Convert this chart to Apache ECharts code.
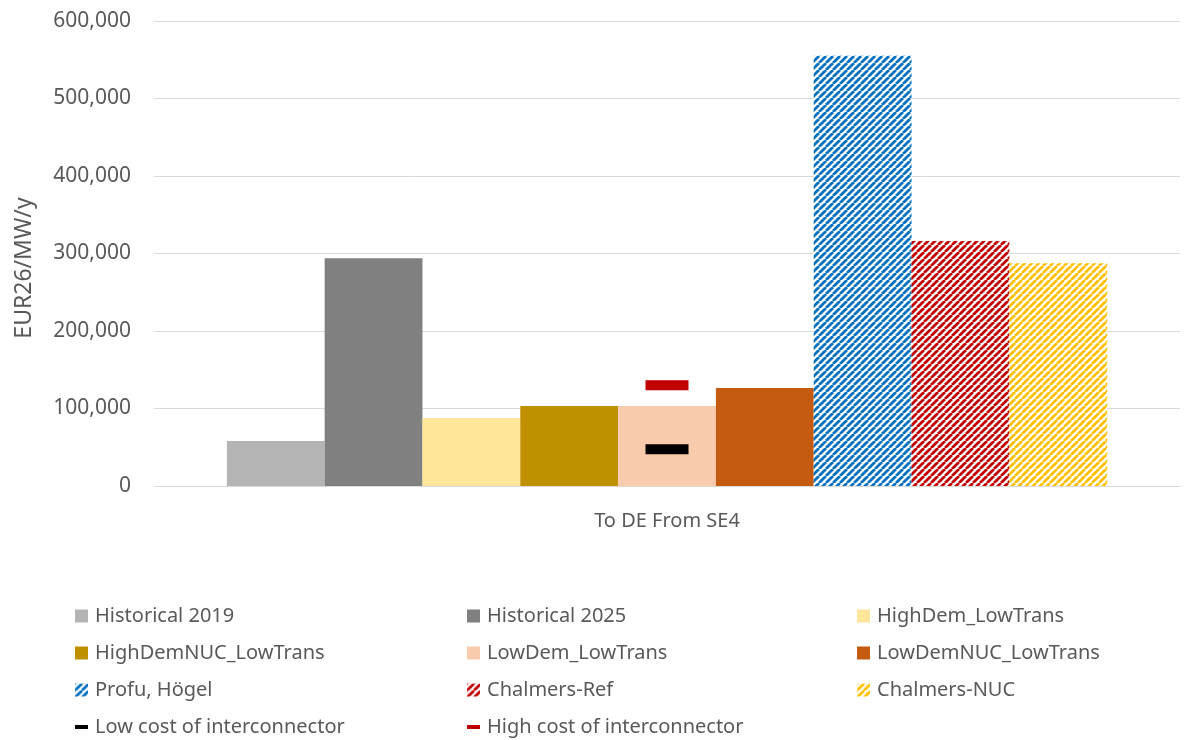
<!DOCTYPE html>
<html>
<head>
<meta charset="utf-8">
<script src="https://cdn.jsdelivr.net/npm/echarts@6/dist/echarts.min.js"></script>
<style>
  html, body { margin: 0; padding: 0; background: #ffffff; }
  #chart { width: 1186px; height: 740px; }
</style>
</head>
<body>
<div id="chart"></div>
<script>
// Annual congestion income per MW, SE4 -> DE
const categories = ['To DE From SE4'];

const scenarioNames = [
  'Historical 2019', 'Historical 2025', 'HighDem_LowTrans',
  'HighDemNUC_LowTrans', 'LowDem_LowTrans', 'LowDemNUC_LowTrans',
  'Profu, Högel', 'Chalmers-Ref', 'Chalmers-NUC'
];
const scenarioValues = [58000, 294000, 87700, 103200, 103200, 126500, 555200, 316100, 287400];

const lowCostName = 'Low cost of interconnector';
const highCostName = 'High cost of interconnector';
const lowCostValues = [47500];
const highCostValues = [130000];

const axisMax = 600000;
const axisStep = 100000;

const textColor = '#595959';
const fontFamily = '"Noto Sans", "Open Sans", sans-serif';

// Diagonal "/" hatch fill for the external studies
function hatch(color) {
  const p = 7;
  const c = document.createElement('canvas');
  c.width = p; c.height = p;
  const ctx = c.getContext('2d');
  ctx.fillStyle = '#ffffff';
  ctx.fillRect(0, 0, p, p);
  ctx.strokeStyle = color;
  ctx.lineWidth = 2.8;
  ctx.beginPath();
  for (let k = -1; k <= 1; k++) {
    ctx.moveTo(k * p, p);
    ctx.lineTo(k * p + p, 0);
  }
  ctx.stroke();
  return { image: c, repeat: 'repeat' };
}

const scenarioColors = [
  '#B4B4B4', '#808080', '#FFE699',
  '#BF9000', '#F8CBAD', '#C55A11',
  hatch('#0070C0'), hatch('#C00000'), hatch('#FFC000')
];

const barSeries = scenarioNames.map((name, i) => ({
  name: name,
  type: 'bar',
  data: [scenarioValues[i]],
  barGap: '0%',
  barCategoryGap: '14.2%',
  itemStyle: { color: scenarioColors[i] }
}));

const markerSeries = [
  {
    name: lowCostName, type: 'scatter', data: [lowCostValues[0]],
    symbol: 'rect', symbolSize: [43, 10], z: 5,
    itemStyle: { color: '#000000', opacity: 1 }
  },
  {
    name: highCostName, type: 'scatter', data: [highCostValues[0]],
    symbol: 'rect', symbolSize: [43, 10], z: 5,
    itemStyle: { color: '#C00000', opacity: 1 }
  }
];

const dashIcon = 'path://M0,0 L0,0 M13,13 L13,13 M0,4.5 L13,4.5 L13,8.5 L0,8.5 Z';

function legendColumn(left, items) {
  return {
    orient: 'vertical',
    left: left,
    top: 606,
    padding: 0,
    itemWidth: 13,
    itemHeight: 13,
    itemGap: 17,
    icon: 'rect',
    textStyle: { color: textColor, fontSize: 20, fontFamily: fontFamily, lineHeight: 20, padding: [0, 0, 0, 2] },
    data: items.map(n => (n === lowCostName || n === highCostName) ? { name: n, icon: dashIcon } : { name: n })
  };
}

const chart = echarts.init(document.getElementById('chart'), null, { renderer: 'canvas' });
chart.setOption({
  animation: false,
  backgroundColor: '#ffffff',
  grid: { left: 154, right: 6, top: 21, bottom: 254, containLabel: false },
  xAxis: {
    type: 'category',
    data: categories,
    axisTick: { show: false },
    axisLine: { lineStyle: { color: '#D9D9D9', width: 1 } },
    axisLabel: { color: textColor, fontSize: 20, fontFamily: fontFamily, margin: 25 }
  },
  yAxis: {
    type: 'value',
    min: 0,
    max: axisMax,
    interval: axisStep,
    axisLine: { show: false },
    axisTick: { show: false },
    splitLine: { lineStyle: { color: '#D9D9D9', width: 1 } },
    axisLabel: {
      color: textColor, fontSize: 21, fontFamily: fontFamily, margin: 23,
      formatter: v => v.toLocaleString('en-US')
    }
  },
  legend: [
    legendColumn(75, [scenarioNames[0], scenarioNames[3], scenarioNames[6], lowCostName]),
    legendColumn(467, [scenarioNames[1], scenarioNames[4], scenarioNames[7], highCostName]),
    legendColumn(857, [scenarioNames[2], scenarioNames[5], scenarioNames[8]])
  ],
  graphic: [{
    type: 'text',
    x: 24, y: 268,
    rotation: Math.PI / 2,
    style: {
      text: 'EUR26/MW/y',
      fill: textColor,
      font: '23px ' + fontFamily,
      align: 'center',
      verticalAlign: 'middle'
    }
  }],
  series: barSeries.concat(markerSeries)
});
</script>
</body>
</html>
